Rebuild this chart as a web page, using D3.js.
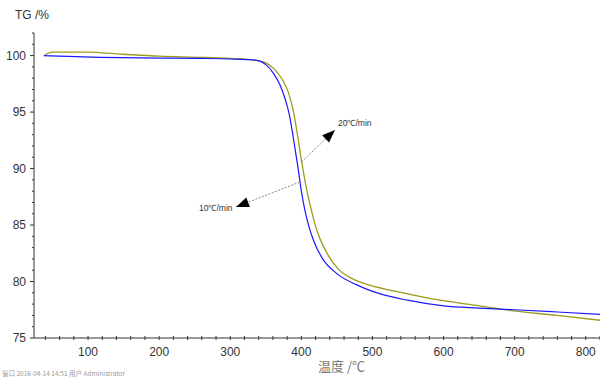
<!DOCTYPE html>
<html><head><meta charset="utf-8">
<script src="https://cdn.jsdelivr.net/npm/d3@7"></script>
<style>body{margin:0;background:#fff}svg{display:block}</style>
</head><body>
<svg id="c" width="600" height="379"></svg>
<script>
// Data: temperature (°C), mass (%)
const blueT = [38,60,117,200,258,300,335,350,360,370,377,383,389,395,400,405,411,418,430,450,478,511,549,600,650,700,760,830];
const blueV = [100.0,99.95,99.85,99.78,99.75,99.7,99.6,99.2,98.5,97.4,96.2,94.8,92.6,90.2,88.0,86.3,84.8,83.5,82.0,80.7,79.7,78.9,78.35,77.85,77.65,77.5,77.3,77.05];
const oliveT = [38,50,99,149,200,258,300,335,350,362,374,382,389,395,401,407,413,419,426,437,452,470,487,535,577,600,651,698,760,830];
const oliveV = [100.0,100.3,100.3,100.12,99.95,99.85,99.75,99.6,99.35,98.8,97.8,96.7,95.0,92.8,90.4,88.3,86.6,85.1,83.8,82.4,81.1,80.3,79.85,79.1,78.55,78.3,77.85,77.4,77.0,76.5];
const xTicks = [100,200,300,400,500,600,700,800];
const yTicks = [75,80,85,90,95,100];
const labels = ["10℃/min","20℃/min"];

const svg = d3.select("#c");
const x = d3.scaleLinear().domain([24,820]).range([34,600]);
const y = d3.scaleLinear().domain([75,102]).range([338,33]);

// title
svg.append("text").attr("x",15).attr("y",19).attr("font-family","Liberation Sans, Arial").attr("font-size",12).attr("fill","#333").text("TG /%");

// y axis
const gy = svg.append("g").attr("transform","translate(34,0)");
gy.append("line").attr("x1",0).attr("x2",0).attr("y1",y(102)).attr("y2",y(75)).attr("stroke","#333");
d3.range(75,102.01,1).forEach(v=>{
  const maj = v%5===0;
  gy.append("line").attr("x1",maj?-4:-2).attr("x2",0).attr("y1",y(v)).attr("y2",y(v)).attr("stroke","#333");
});
yTicks.forEach(v=>{
  gy.append("text").attr("x",-8).attr("y",y(v)).attr("dy","0.35em").attr("text-anchor","end")
    .attr("font-family","Liberation Sans, Arial").attr("font-size",12).attr("fill","#333").text(v);
});

// x axis
const gx = svg.append("g").attr("transform","translate(0,338)");
gx.append("line").attr("x1",x(24)).attr("x2",600).attr("y1",0).attr("y2",0).attr("stroke","#333");
d3.range(40,821,20).forEach(t=>{
  gx.append("line").attr("x1",x(t)).attr("x2",x(t)).attr("y1",-2).attr("y2",2).attr("stroke","#333");
});
xTicks.forEach(t=>{
  gx.append("text").attr("x",x(t)).attr("y",18).attr("text-anchor","middle")
    .attr("font-family","Liberation Sans, Arial").attr("font-size",12).attr("fill","#333").text(t);
});
svg.append("text").attr("x",318).attr("y",371).attr("font-family","Noto Sans CJK SC").attr("font-size",13).attr("fill","#777").text("温度 /℃");
svg.append("text").attr("x",2).attr("y",376).attr("font-family","Noto Sans CJK SC").attr("font-size",6.5).attr("fill","#999").text("窗口    2016-04-14 14:51    用户    Administrator");

// curves
svg.append("clipPath").attr("id","cp").append("rect").attr("x",34).attr("y",20).attr("width",566).attr("height",318);
const line = d3.line().x(d=>x(d[0])).y(d=>y(d[1])).curve(d3.curveMonotoneX);
svg.append("path").attr("clip-path","url(#cp)").datum(oliveT.map((t,i)=>[t,oliveV[i]]))
  .attr("d",line).attr("fill","none").attr("stroke","#9c9c1c").attr("stroke-width",1.3);
svg.append("path").attr("clip-path","url(#cp)").datum(blueT.map((t,i)=>[t,blueV[i]]))
  .attr("d",line).attr("fill","none").attr("stroke","#1a1aff").attr("stroke-width",1.2);

// annotations
function arrow(x1,y1,x2,y2){
  svg.append("line").attr("x1",x1).attr("y1",y1).attr("x2",x2).attr("y2",y2)
    .attr("stroke","#888").attr("stroke-width",1).attr("stroke-dasharray","2,1.5");
  const a = Math.atan2(y2-y1,x2-x1), L=13, W=5;
  const bx = x2-L*Math.cos(a), by = y2-L*Math.sin(a);
  const px = -Math.sin(a)*W, py = Math.cos(a)*W;
  svg.append("path").attr("d",`M${x2},${y2}L${bx+px},${by+py}L${bx-px},${by-py}Z`).attr("fill","#000");
}
arrow(x(400.5),y(90.6),335,130);
arrow(x(397.5),y(88.8),236,207);
svg.append("text").attr("x",338).attr("y",126).attr("font-family","Liberation Sans, Arial").attr("font-size",8.5).attr("fill","#333").text(labels[1]);
svg.append("text").attr("x",199).attr("y",211).attr("font-family","Liberation Sans, Arial").attr("font-size",8.5).attr("fill","#333").text(labels[0]);
</script>
</body></html>
